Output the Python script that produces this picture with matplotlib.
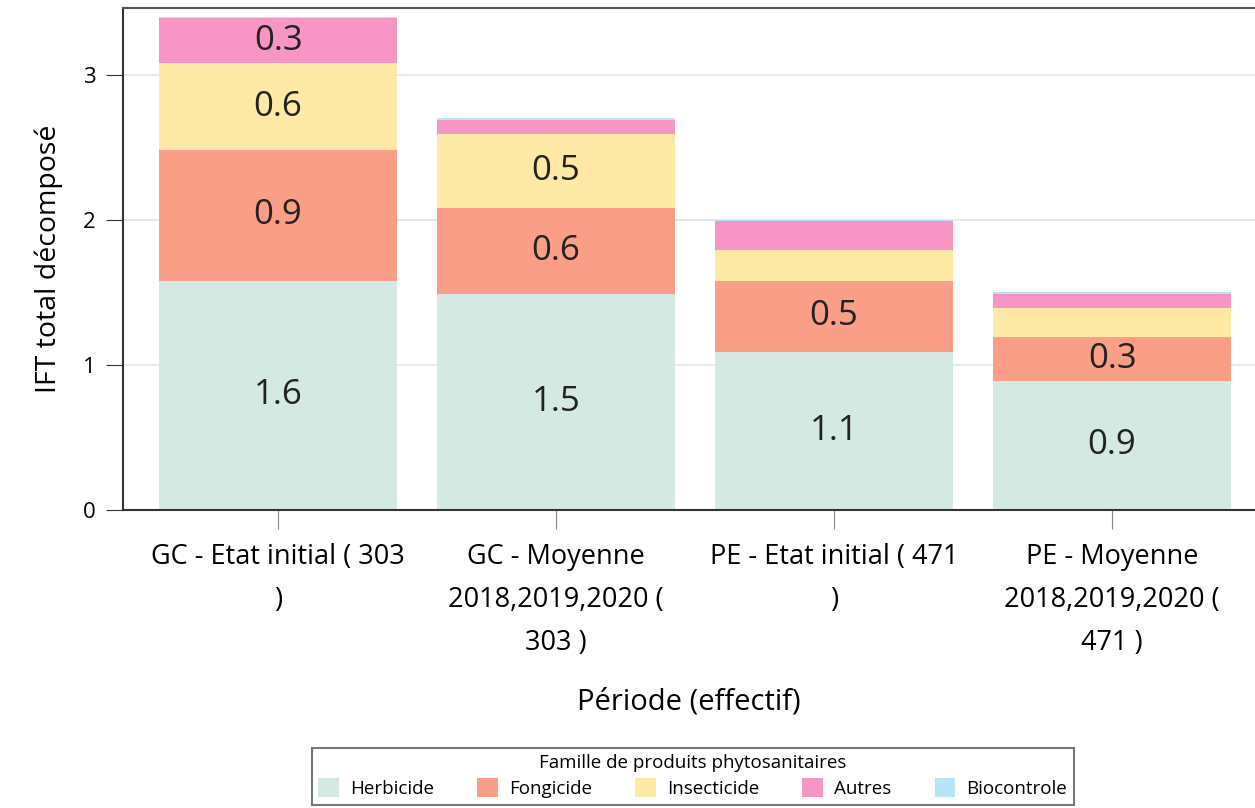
import matplotlib.pyplot as plt
import numpy as np

plt.rcParams['font.family'] = ['Open Sans', 'DejaVu Sans']

categories = ['GC - Etat initial ( 303\n)', 'GC - Moyenne\n2018,2019,2020 (\n303 )',
              'PE - Etat initial ( 471\n)', 'PE - Moyenne\n2018,2019,2020 (\n471 )']
herbicide = [1.58, 1.49, 1.09, 0.89]
fongicide = [0.90, 0.59, 0.49, 0.30]
insecticide = [0.60, 0.51, 0.21, 0.20]
autres = [0.31, 0.10, 0.20, 0.10]
biocontrole = [0.01, 0.01, 0.01, 0.01]

series = [('Herbicide', herbicide, '#d4e9e2'),
          ('Fongicide', fongicide, '#fa9e87'),
          ('Insecticide', insecticide, '#fde9a5'),
          ('Autres', autres, '#f796c4'),
          ('Biocontrole', biocontrole, '#b8e4f8')]

fig = plt.figure(figsize=(12.55, 8.08), dpi=100)
ax = fig.add_axes([0.098, 0.369, 0.902, 0.621])

x = np.arange(len(categories))
bottom = np.zeros(len(categories))
for name, vals, col in series:
    vals = np.array(vals)
    ax.bar(x, vals, 0.856, bottom=bottom, color=col, label=name, zorder=2)
    for xi, b, v in zip(x, bottom, vals):
        if v >= 0.25:
            ax.text(xi, b + v / 2, f'{v:.1f}', ha='center', va='center',
                    fontsize=25, color='#222222', zorder=3)
    bottom += vals

ax.set_xlim(-0.558, 3.514)
ax.set_ylim(0, 3.46)
ax.set_yticks([0, 1, 2, 3])
ax.set_xticks(x)
ax.set_xticklabels(categories, fontsize=19.5, linespacing=1.7)
ax.tick_params(axis='y', labelsize=16, length=12, color='#333333', pad=8)
ax.tick_params(axis='x', length=14, color='#888888', pad=10)
ax.grid(axis='y', color='#dde8e8', linewidth=1.2, zorder=0)
ax.set_axisbelow(True)
for s in ['left', 'bottom', 'top']:
    ax.spines[s].set_color('#333333')
    ax.spines[s].set_linewidth(1.5)
ax.spines['top'].set_color('#555555')
ax.spines['right'].set_visible(False)

ax.set_ylabel('IFT total décomposé', fontsize=20.5, labelpad=14)
ax.set_xlabel('Période (effectif)', fontsize=21, labelpad=22)

leg = fig.legend(loc='upper center', bbox_to_anchor=(0.552, 0.086), ncol=5,
                 title='Famille de produits phytosanitaires', fontsize=13.5,
                 title_fontsize=13.5, frameon=True, fancybox=False,
                 edgecolor='#555555', handlelength=1.1, handleheight=1.2,
                 handletextpad=0.6, columnspacing=2.3, borderpad=0.35,
                 labelspacing=0.3)
leg.get_frame().set_linewidth(1.5)

fig.savefig('out.png', dpi=100)
